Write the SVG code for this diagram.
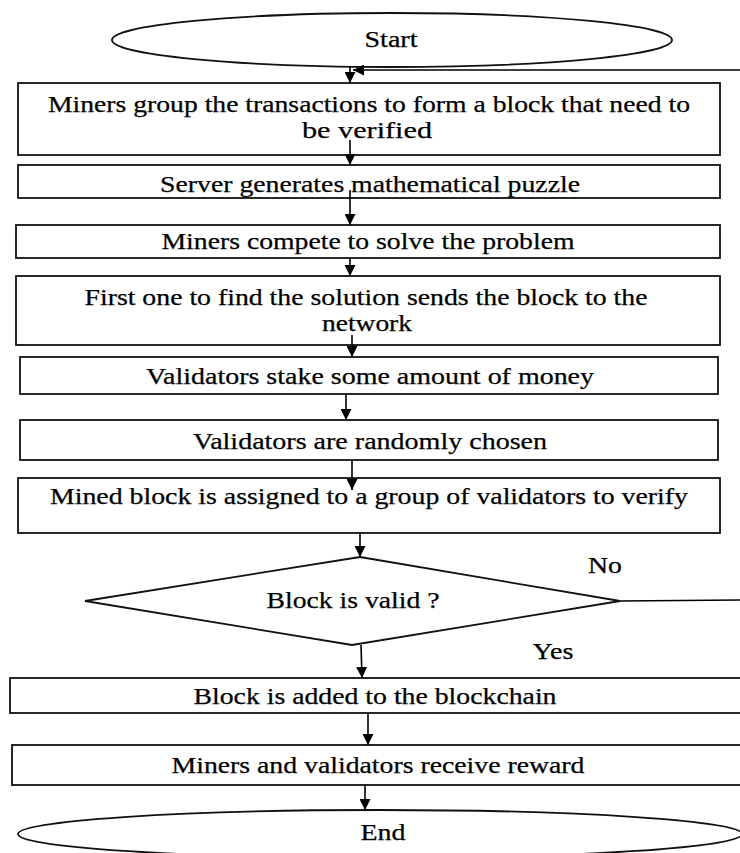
<svg xmlns="http://www.w3.org/2000/svg" width="740" height="853" viewBox="0 0 740 853">
  <style>
    .shape { fill: #fff; stroke: #111; stroke-width: 1.8; }
    .lbl { font-family: "Liberation Serif", "Times New Roman", serif; font-size: 23.5px; fill: #000; stroke: #000; stroke-width: 0.25; text-anchor: middle; }
    .edge { fill: none; stroke: #000; stroke-width: 1.6; }
  </style>
  <defs>
    <marker id="arrow" viewBox="0 0 10 10" refX="10" refY="5" markerWidth="11" markerHeight="11" markerUnits="userSpaceOnUse" orient="auto">
      <path d="M0,0 L10,5 L0,10 z" fill="#000"/>
    </marker>
  </defs>
  <rect width="740" height="853" fill="#fff"/>

  <g id="start">
    <ellipse class="shape" cx="392" cy="40" rx="280" ry="27"/>
    <text class="lbl" x="391" y="47" textLength="53" lengthAdjust="spacingAndGlyphs">Start</text>
  </g>
  <g id="group-transactions">
    <rect class="shape" x="18" y="83" width="702" height="72"/>
    <text class="lbl" x="369" y="112" textLength="642" lengthAdjust="spacingAndGlyphs">Miners group the transactions to form a block that need to</text>
    <text class="lbl" x="367" y="138" textLength="130" lengthAdjust="spacingAndGlyphs">be verified</text>
  </g>
  <g id="server-puzzle">
    <rect class="shape" x="18" y="165" width="702" height="33"/>
    <text class="lbl" x="370" y="192" textLength="420" lengthAdjust="spacingAndGlyphs">Server generates mathematical puzzle</text>
  </g>
  <g id="miners-compete">
    <rect class="shape" x="16" y="225" width="704" height="33"/>
    <text class="lbl" x="368" y="249" textLength="413" lengthAdjust="spacingAndGlyphs">Miners compete to solve the problem</text>
  </g>
  <g id="first-solution">
    <rect class="shape" x="16" y="276" width="704" height="69"/>
    <text class="lbl" x="366" y="305" textLength="563" lengthAdjust="spacingAndGlyphs">First one to find the solution sends the block to the</text>
    <text class="lbl" x="367" y="331" textLength="90" lengthAdjust="spacingAndGlyphs">network</text>
  </g>
  <g id="validators-stake">
    <rect class="shape" x="20" y="357" width="698" height="37"/>
    <text class="lbl" x="370" y="384" textLength="448" lengthAdjust="spacingAndGlyphs">Validators stake some amount of money</text>
  </g>
  <g id="validators-chosen">
    <rect class="shape" x="20" y="420" width="698" height="40"/>
    <text class="lbl" x="370" y="449" textLength="354" lengthAdjust="spacingAndGlyphs">Validators are randomly chosen</text>
  </g>
  <g id="assign-block">
    <rect class="shape" x="18" y="478" width="702" height="55"/>
    <text class="lbl" x="369" y="504" textLength="638" lengthAdjust="spacingAndGlyphs">Mined block is assigned to a group of validators to verify</text>
  </g>
  <g id="block-valid">
    <polygon class="shape" points="360,557 620,601 352,645 85,601"/>
    <text class="lbl" x="353" y="608" textLength="173" lengthAdjust="spacingAndGlyphs">Block is valid ?</text>
  </g>
  <g id="add-block">
    <rect class="shape" x="10" y="678" width="735" height="35"/>
    <text class="lbl" x="375" y="704" textLength="363" lengthAdjust="spacingAndGlyphs">Block is added to the blockchain</text>
  </g>
  <g id="reward">
    <rect class="shape" x="12" y="745" width="733" height="40"/>
    <text class="lbl" x="378" y="773" textLength="413" lengthAdjust="spacingAndGlyphs">Miners and validators receive reward</text>
  </g>
  <g id="end">
    <ellipse class="shape" cx="380" cy="834" rx="362" ry="24"/>
    <text class="lbl" x="383" y="840" textLength="45" lengthAdjust="spacingAndGlyphs">End</text>
  </g>

  <g id="connectors">
    <line class="edge" x1="350" y1="67" x2="350" y2="83" marker-end="url(#arrow)"/>
    <path class="edge" d="M620,601 L745,600 L745,70 L353,70" marker-end="url(#arrow)"/>
    <line class="edge" x1="350" y1="140" x2="350" y2="165" marker-end="url(#arrow)"/>
    <line class="edge" x1="350" y1="190" x2="350" y2="225" marker-end="url(#arrow)"/>
    <line class="edge" x1="350" y1="258" x2="350" y2="276" marker-end="url(#arrow)"/>
    <line class="edge" x1="352" y1="335" x2="352" y2="357" marker-end="url(#arrow)"/>
    <line class="edge" x1="346" y1="394" x2="346" y2="420" marker-end="url(#arrow)"/>
    <line class="edge" x1="352" y1="460" x2="352" y2="490" marker-end="url(#arrow)"/>
    <line class="edge" x1="360" y1="533" x2="360" y2="557" marker-end="url(#arrow)"/>
    <line class="edge" x1="361" y1="645" x2="362" y2="678" marker-end="url(#arrow)"/>
    <line class="edge" x1="368" y1="713" x2="368" y2="745" marker-end="url(#arrow)"/>
    <line class="edge" x1="365" y1="785" x2="365" y2="810" marker-end="url(#arrow)"/>
    <text class="lbl" x="605" y="573" textLength="34" lengthAdjust="spacingAndGlyphs">No</text>
    <text class="lbl" x="553" y="659" textLength="41" lengthAdjust="spacingAndGlyphs">Yes</text>
  </g>
</svg>
